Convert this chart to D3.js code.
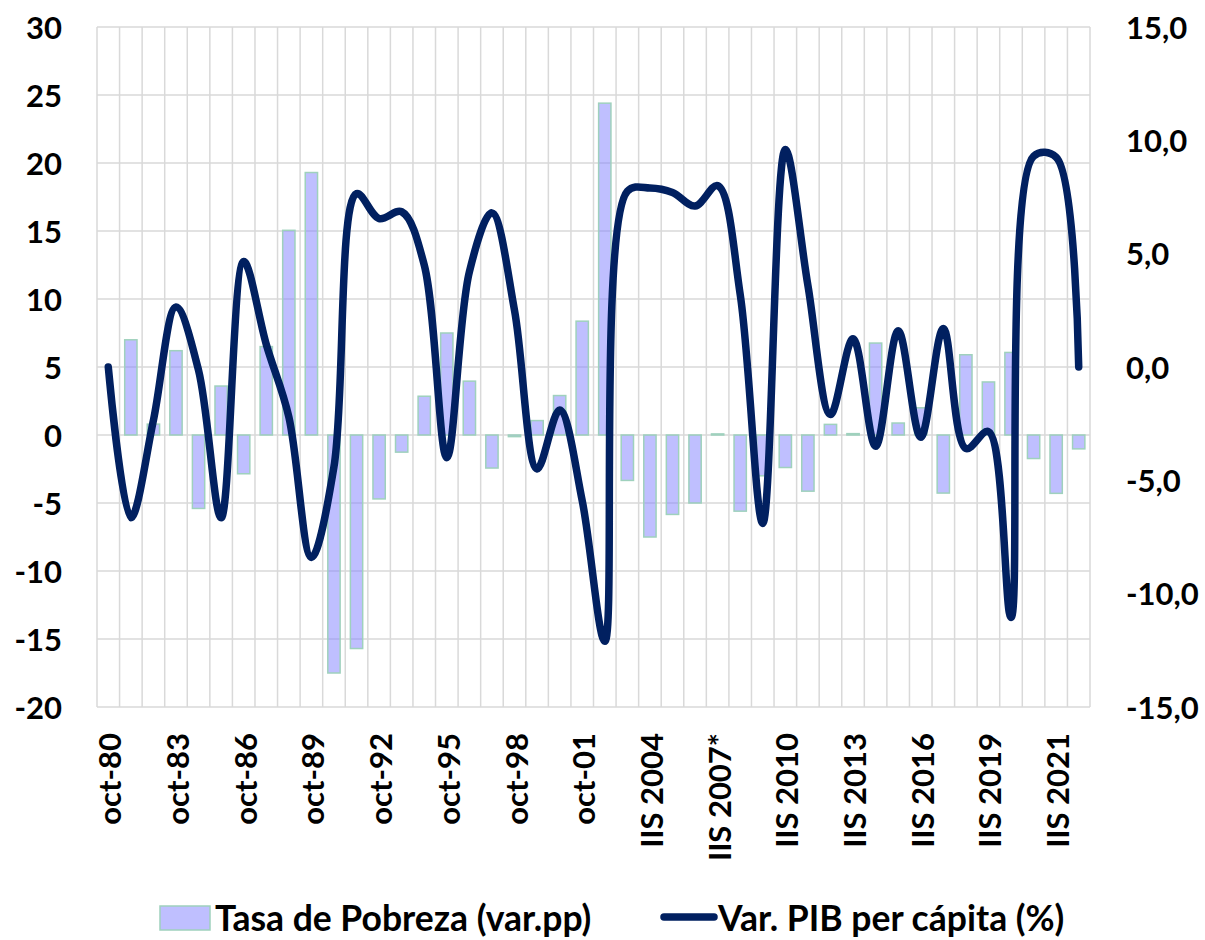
<!DOCTYPE html>
<html>
<head>
<meta charset="utf-8">
<script src="https://cdn.jsdelivr.net/npm/d3@7"></script>
<style>
  html, body { margin: 0; padding: 0; background: #fff; }
  svg { display: block; }
  text { font-family: Lato, "Open Sans", "Liberation Sans", sans-serif; font-weight: 700; fill: #000; }
</style>
</head>
<body>
<svg id="chart" width="1205" height="940"></svg>
<script>
// ---------- DATA ----------
const categories = [
  "oct-80","oct-81","oct-82","oct-83","oct-84","oct-85","oct-86","oct-87","oct-88","oct-89",
  "oct-90","oct-91","oct-92","oct-93","oct-94","oct-95","oct-96","oct-97","oct-98","oct-99",
  "oct-00","oct-01","oct-02","IIS 2003","IIS 2004","IIS 2005","IIS 2006","IIS 2007*","IIS 2008","IIS 2009",
  "IIS 2010","IIS 2011","IIS 2012","IIS 2013","IIS 2014","IIS 2015","IIS 2016","IIS 2017","IIS 2018","IIS 2019",
  "IIS 2020","IS 2021","IIS 2021","IS 2022"
];
const tickLabels = ["oct-80","oct-83","oct-86","oct-89","oct-92","oct-95","oct-98","oct-01",
  "IIS 2004","IIS 2007*","IIS 2010","IIS 2013","IIS 2016","IIS 2019","IIS 2021"];
const pobreza = [
  null, 7.0, 0.8, 6.2, -5.4, 3.6, -2.85, 6.5, 15.05, 19.3,
  -17.5, -15.7, -4.7, -1.26, 2.85, 7.5, 3.96, -2.43, -0.12, 1.06,
  2.9, 8.37, 24.4, -3.34, -7.5, -5.84, -5.0, 0.08, -5.6, -3.0,
  -2.39, -4.13, 0.78, 0.1, 6.76, 0.88, 2.0, -4.27, 5.9, 3.9,
  6.07, -1.73, -4.29, -1.02
];
const pib = [
  0.0, -6.65, -2.35, 2.65, -0.15, -6.65, 4.65, 1.0, -2.2, -8.4,
  -4.4, 7.65, 6.55, 6.85, 4.5, -4.0, 4.2, 6.8, 2.5, -4.5,
  -1.9, -5.9, -12.1, 7.75, 7.9, 7.7, 7.1, 8.0, 3.2, -6.9,
  9.6, 3.6, -2.1, 1.25, -3.5, 1.6, -3.1, 1.7, -3.6, -2.85,
  -11.05, 9.3, 9.25, 0.0
];
const leftTicks = [-20, -15, -10, -5, 0, 5, 10, 15, 20, 25, 30];
const rightTicks = [-15, -10, -5, 0, 5, 10, 15];
const seriesNames = ["Tasa de Pobreza (var.pp)", "Var. PIB per cápita (%)"];

// ---------- LAYOUT ----------
const W = 1205, H = 940;
const margin = { left: 97, right: 115, top: 27, bottom: 233 };
const x0 = margin.left, x1 = W - margin.right;
const y0 = H - margin.bottom, y1 = margin.top;

const barFill = "#7f7fff", barFillOpacity = 0.5, barStroke = "#9fd1bd";
const lineColor = "#012060";
const gridColor = "#d9d9d9";

const svg = d3.select("#chart");

const x = d3.scaleBand().domain(categories).range([x0, x1]).paddingInner(0).paddingOuter(0);
const yL = d3.scaleLinear().domain([-20, 30]).range([y0, y1]);
const yR = d3.scaleLinear().domain([-15, 15]).range([y0, y1]);

// ---------- GRID ----------
const grid = svg.append("g");
grid.selectAll("line.h").data(leftTicks).join("line")
  .attr("x1", x0).attr("x2", x1)
  .attr("y1", d => yL(d)).attr("y2", d => yL(d))
  .attr("stroke", gridColor).attr("stroke-width", 1.5);
const bounds = categories.map(c => x(c)).concat([x1]);
grid.selectAll("line.v").data(bounds).join("line")
  .attr("x1", d => d).attr("x2", d => d)
  .attr("y1", y1).attr("y2", y0)
  .attr("stroke", gridColor).attr("stroke-width", 1.5);

// ---------- BARS ----------
const bw = x.bandwidth() * 0.545;
svg.append("g").selectAll("rect").data(categories.map((c, i) => ({ c, v: pobreza[i] })).filter(d => d.v !== null))
  .join("rect")
  .attr("x", d => x(d.c) + (x.bandwidth() - bw) / 2)
  .attr("width", bw)
  .attr("y", d => yL(Math.max(0, d.v)))
  .attr("height", d => Math.abs(yL(d.v) - yL(0)))
  .attr("fill", barFill).attr("fill-opacity", barFillOpacity)
  .attr("stroke", barStroke).attr("stroke-width", 1.5);

// ---------- LINE ----------
const line = d3.line()
  .x((d, i) => x(categories[i]) + x.bandwidth() / 2)
  .y(d => yR(d))
  .curve(d3.curveCatmullRom.alpha(0.5));
svg.append("path").datum(pib)
  .attr("d", line)
  .attr("fill", "none").attr("stroke", lineColor)
  .attr("stroke-width", 7.5).attr("stroke-linecap", "round").attr("stroke-linejoin", "round");

// ---------- AXES ----------
const fmtR = v => v.toFixed(1).replace(".", ",");
const axisFont = 31;
const leftAxis = svg.append("g").attr("transform", `translate(${x0 - 35},0)`)
  .call(d3.axisLeft(yL).tickValues(leftTicks).tickSize(0).tickPadding(0).tickFormat(d => String(d)));
const rightAxis = svg.append("g").attr("transform", `translate(${x1 + 36},0)`)
  .call(d3.axisRight(yR).tickValues(rightTicks).tickSize(0).tickPadding(0).tickFormat(fmtR));
const bottomAxis = svg.append("g").attr("transform", `translate(0,${y0 + 26})`)
  .call(d3.axisBottom(x).tickValues(tickLabels).tickSize(0).tickPadding(0));
[leftAxis, rightAxis, bottomAxis].forEach(a => {
  a.select(".domain").remove();
  a.selectAll("text").attr("font-size", axisFont).attr("font-family", "Lato, sans-serif")
    .attr("font-weight", 700).attr("fill", "#000");
});
leftAxis.selectAll("text").attr("dy", "0.36em");
rightAxis.selectAll("text").attr("dy", "0.36em");
bottomAxis.selectAll("text")
  .attr("transform", "rotate(-90)")
  .attr("text-anchor", "end")
  .attr("x", 0).attr("y", 0)
  .attr("dy", "0.42em");

// ---------- LEGEND ----------
const legend = svg.append("g");
const legY = 918;
const legFont = 35.5;
legend.append("rect")
  .attr("x", 160).attr("y", legY - 12).attr("width", 50).attr("height", 24)
  .attr("fill", barFill).attr("fill-opacity", barFillOpacity)
  .attr("stroke", barStroke).attr("stroke-width", 1.5);
legend.append("text").attr("x", 215).attr("y", legY).attr("dy", "0.36em")
  .attr("font-size", legFont).text(seriesNames[0]);
legend.append("line")
  .attr("x1", 664).attr("x2", 714).attr("y1", legY - 1).attr("y2", legY - 1)
  .attr("stroke", lineColor).attr("stroke-width", 7.5).attr("stroke-linecap", "round");
legend.append("text").attr("x", 718).attr("y", legY).attr("dy", "0.36em")
  .attr("font-size", legFont).text(seriesNames[1]);
</script>
</body>
</html>
